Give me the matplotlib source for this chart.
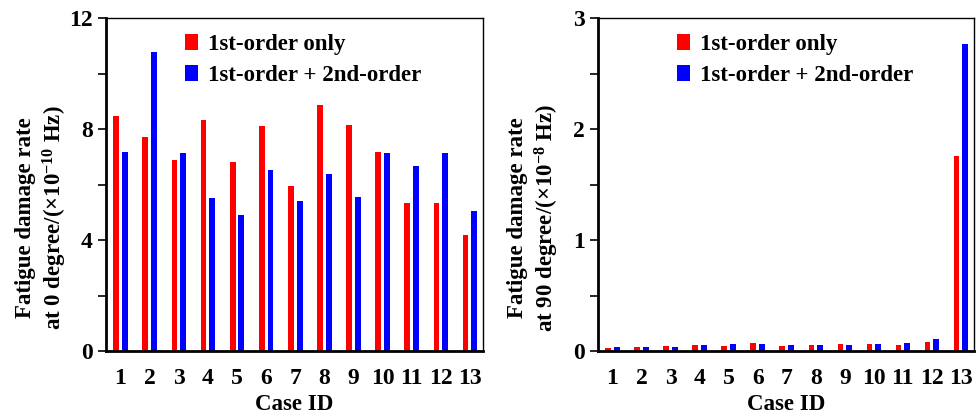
import numpy as np
import matplotlib
matplotlib.use('Agg')
import matplotlib.pyplot as plt

plt.rcParams['font.family'] = 'Liberation Serif'
plt.rcParams['font.weight'] = 'bold'
plt.rcParams['mathtext.fontset'] = 'custom'
plt.rcParams['mathtext.rm'] = 'Liberation Serif:bold'
plt.rcParams['mathtext.it'] = 'Liberation Serif:bold'
plt.rcParams['mathtext.bf'] = 'Liberation Serif:bold'

case_ids = np.arange(1, 14)

# 0 degree, x1e-10 Hz
first_0 = [8.46, 7.70, 6.88, 8.32, 6.81, 8.10, 5.96, 8.86, 8.14, 7.18, 5.34, 5.34, 4.17]
both_0 = [7.18, 10.79, 7.15, 5.53, 4.89, 6.53, 5.40, 6.38, 5.55, 7.12, 6.65, 7.12, 5.05]

# 90 degree, x1e-8 Hz
first_90 = [0.030, 0.036, 0.048, 0.054, 0.042, 0.069, 0.048, 0.057, 0.063, 0.063, 0.057, 0.084, 1.758]
both_90 = [0.033, 0.036, 0.039, 0.054, 0.063, 0.060, 0.054, 0.054, 0.051, 0.063, 0.072, 0.105, 2.765]

RED = '#ff0000'
BLUE = '#0000ff'
W = 0.2
FS = 16.5


def draw_panel(ax, red, blue, ymax, major, minor, ylabel):
    ax.bar(case_ids - 0.15, red, width=W, color=RED, label='1st-order only')
    ax.bar(case_ids + 0.15, blue, width=W, color=BLUE, label='1st-order + 2nd-order')
    ax.set_xlim(0.5, 13.45)
    ax.set_ylim(0, ymax)
    ax.set_xticks(case_ids)
    ax.set_xticklabels([str(c) for c in case_ids], fontsize=17, fontweight='bold')
    ax.set_yticks(major)
    ax.set_yticks(minor, minor=True)
    ax.tick_params(axis='x', length=0, pad=12)
    ax.tick_params(axis='y', which='both', direction='out', length=6, width=1.2, labelsize=17)
    for lab in ax.get_yticklabels():
        lab.set_fontweight('bold')
    ax.spines['left'].set_linewidth(2)
    ax.spines['bottom'].set_linewidth(2)
    ax.spines['top'].set_linewidth(1)
    ax.spines['right'].set_linewidth(1)
    ax.set_xlabel('Case ID', fontsize=FS, fontweight='bold', labelpad=4)
    ax.set_ylabel(ylabel, fontsize=FS, fontweight='bold', linespacing=1.25)
    ax.yaxis.set_label_coords(-0.098, 0.40)
    ax.legend(loc='upper left', bbox_to_anchor=(0.155, 1.015), frameon=False,
              handlelength=0.55, handleheight=0.75, handletextpad=0.45,
              labelspacing=0.42, prop={'weight': 'bold', 'size': FS})


fig = plt.figure(figsize=(9.76, 4.19), dpi=100)
ax1 = fig.add_axes([106 / 976, 1 - 351 / 419, 377 / 976, 333 / 419])
ax2 = fig.add_axes([598 / 976, 1 - 351 / 419, 376 / 976, 333 / 419])

draw_panel(ax1, first_0, both_0, 12, [0, 4, 8, 12], [2, 6, 10],
           'Fatigue damage rate\nat 0 degree/(\u00d710$^{-10}$ Hz)')
draw_panel(ax2, first_90, both_90, 3, [0, 1, 2, 3], [0.5, 1.5, 2.5],
           'Fatigue damage rate\nat 90 degree/(\u00d710$^{-8}$ Hz)')

fig.savefig('out.png', dpi=100)
